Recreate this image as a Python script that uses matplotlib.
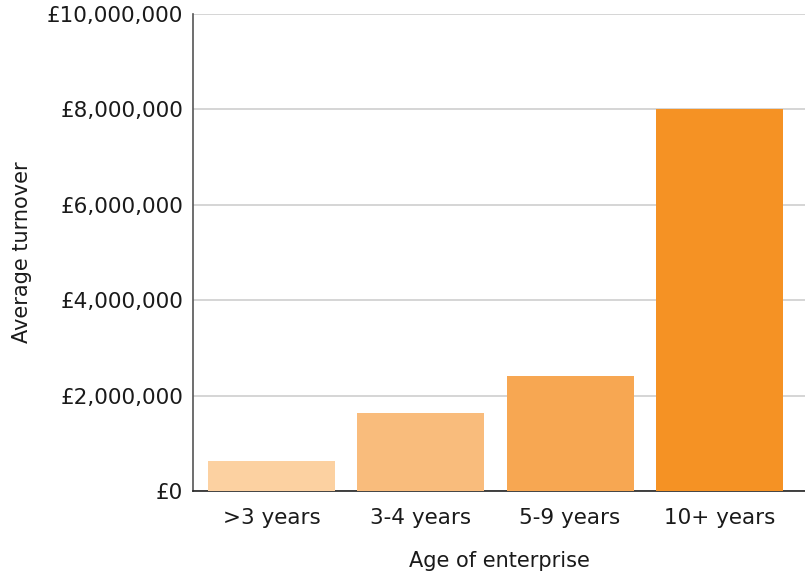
import matplotlib
matplotlib.use("Agg")
import matplotlib.pyplot as plt
from matplotlib.ticker import FuncFormatter

# Average turnover by age of enterprise
categories = [">3 years", "3-4 years", "5-9 years", "10+ years"]
turnover = [630000, 1630000, 2410000, 8010000]
bar_colors = ["#FCD1A1", "#F9BC7C", "#F7A752", "#F59224"]
y_ticks = [0, 2000000, 4000000, 6000000, 8000000, 10000000]

plt.rcParams["font.family"] = ["DejaVu Sans"]

fig = plt.figure(figsize=(8.05, 5.72), dpi=100)
ax = fig.add_axes([0.2398, 0.1416, 0.7602, 0.8339])

x = range(len(categories))
ax.bar(x, turnover, width=0.85, color=bar_colors, zorder=3)

ax.set_xlim(-0.526, 3.574)
ax.set_ylim(0, 10000000)
ax.set_yticks(y_ticks)
ax.yaxis.set_major_formatter(FuncFormatter(lambda v, _: f"£{v:,.0f}"))
ax.set_xticks(list(x))
ax.set_xticklabels(categories)

ax.grid(axis="y", color="#D2D2D2", linewidth=1.3, zorder=0)
ax.set_axisbelow(True)

for side in ("top", "right"):
    ax.spines[side].set_visible(False)
ax.spines["left"].set_color("#555555")
ax.spines["left"].set_linewidth(1.2)
ax.spines["bottom"].set_color("#222222")
ax.spines["bottom"].set_linewidth(1.2)

ax.tick_params(axis="both", length=0, labelsize=15.5, colors="#1A1A1A")
ax.tick_params(axis="y", pad=7)
ax.tick_params(axis="x", pad=12)

ax.set_ylabel("Average turnover", fontsize=15, color="#1A1A1A")
ax.set_xlabel("Age of enterprise", fontsize=15, color="#1A1A1A")
ax.yaxis.set_label_coords(-0.263, 0.5)
ax.xaxis.set_label_coords(0.5, -0.125)

fig.savefig("out.png", dpi=100)
